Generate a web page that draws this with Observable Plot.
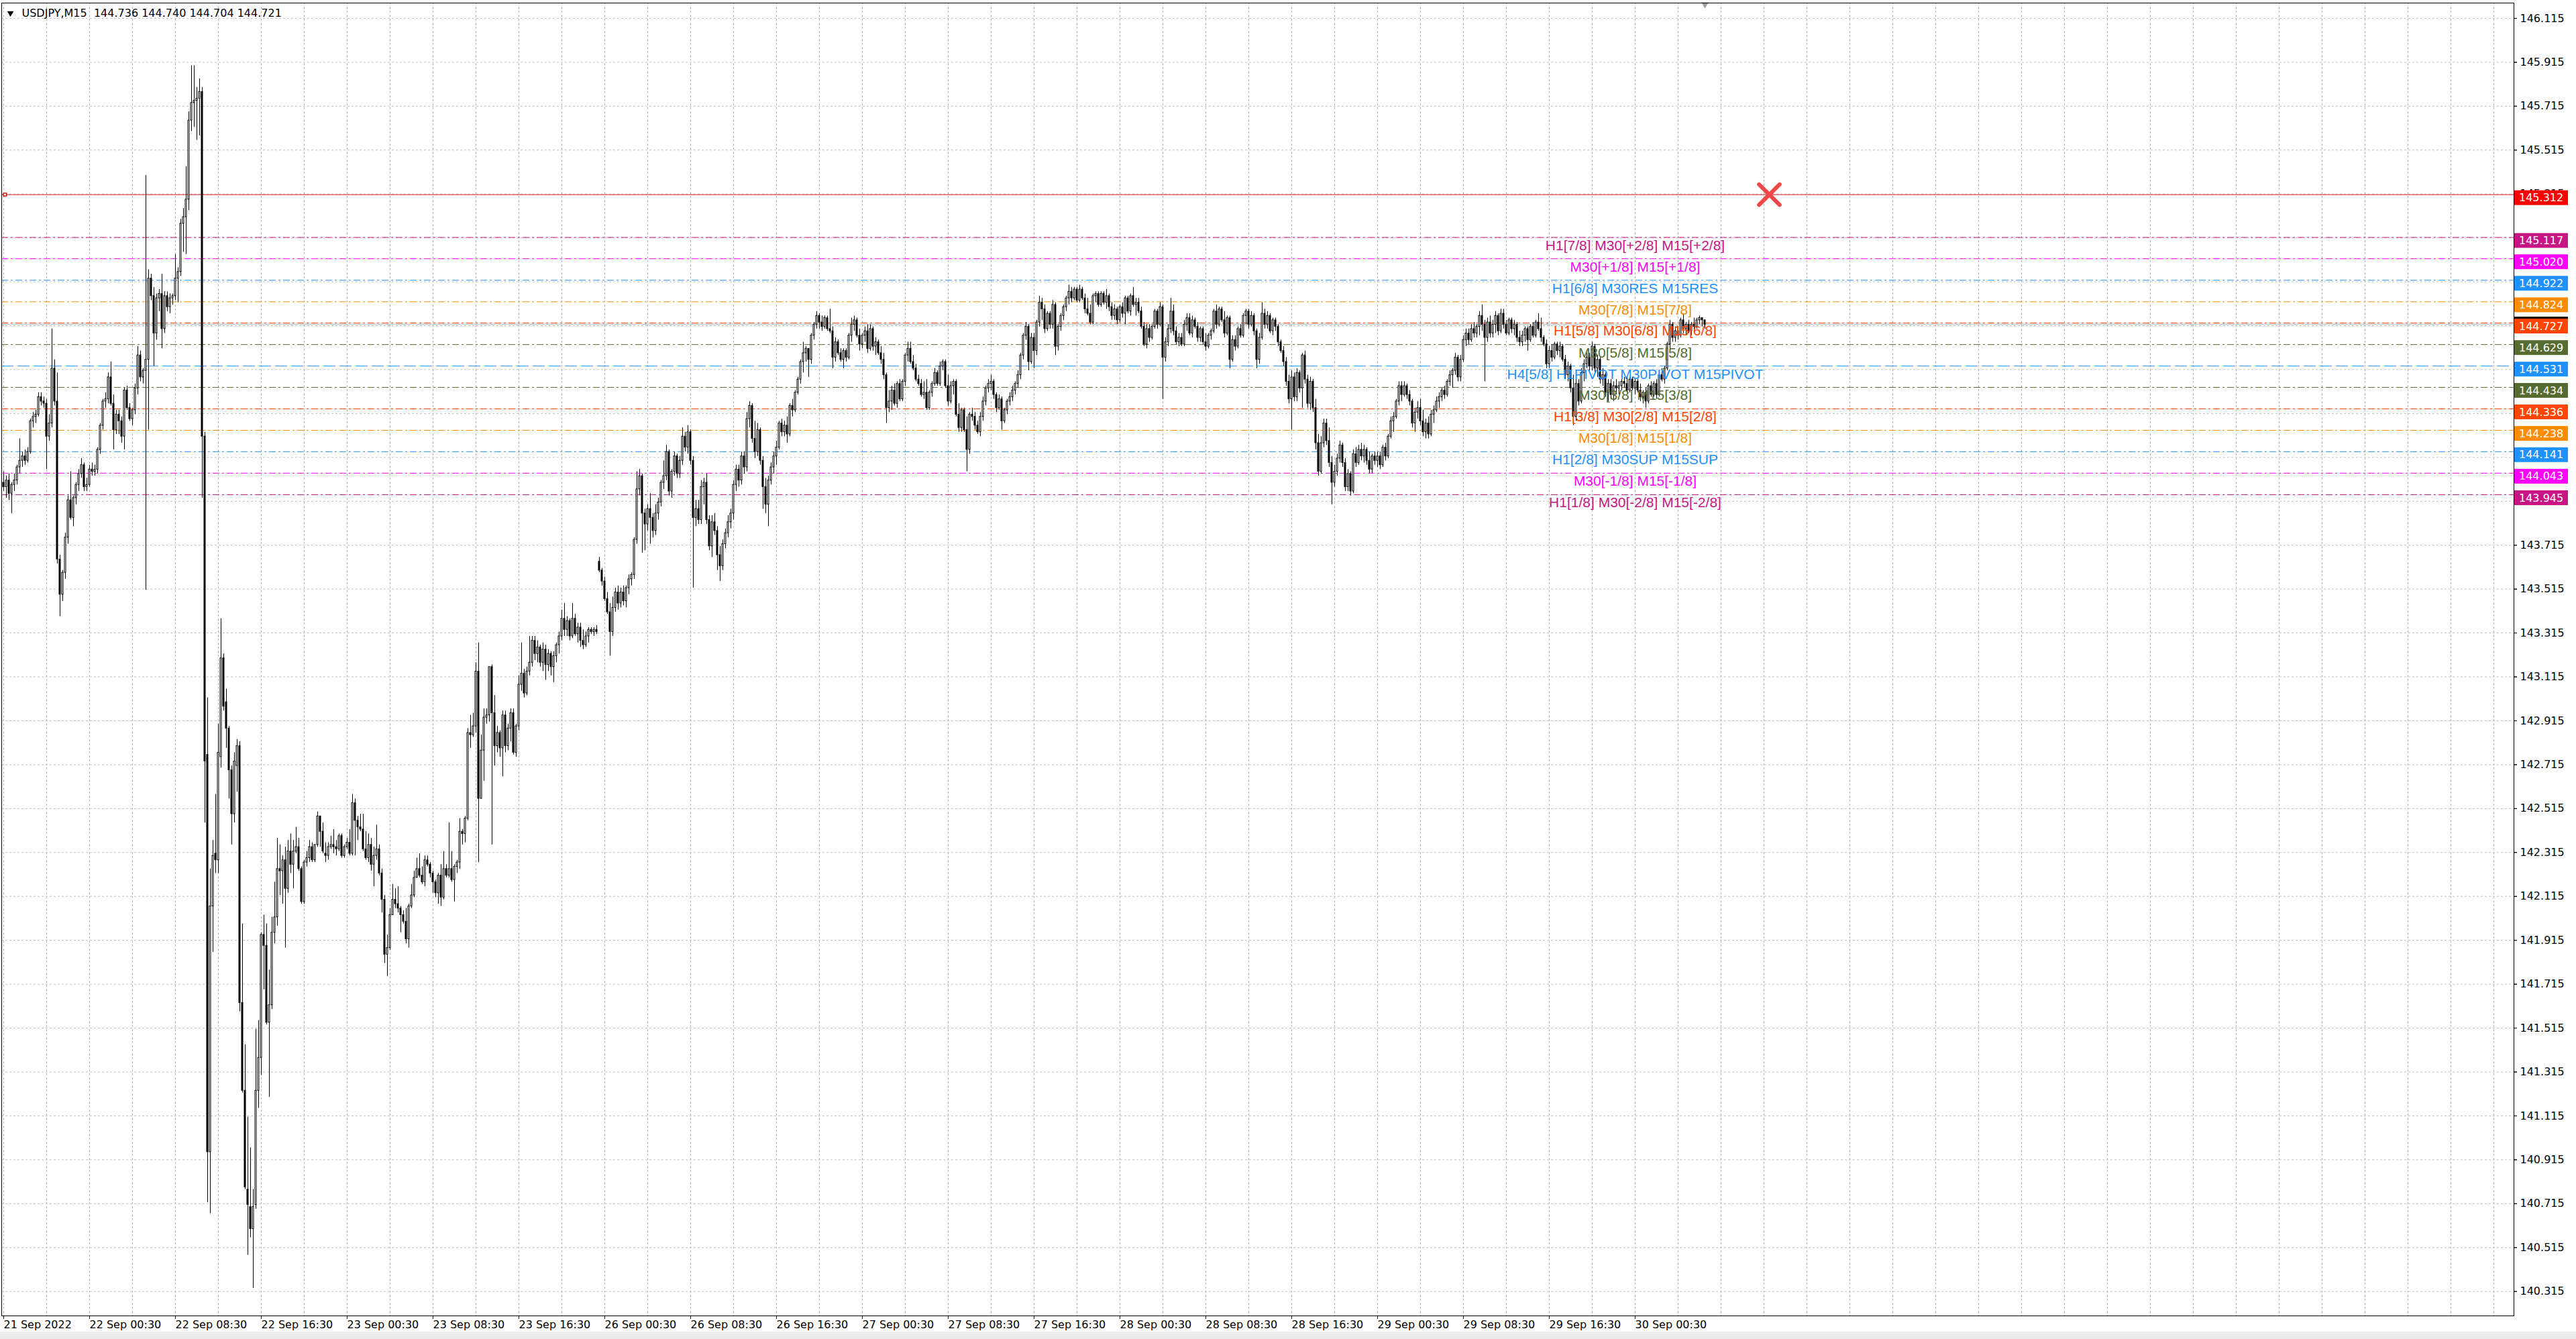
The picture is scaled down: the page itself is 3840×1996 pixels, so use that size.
<!DOCTYPE html>
<html><head><meta charset="utf-8">
<script src="https://cdn.jsdelivr.net/npm/d3@7"></script>
<script src="https://cdn.jsdelivr.net/npm/@observablehq/plot@0.6"></script>
<style>
html,body{margin:0;padding:0;background:#ececec;}
#chart svg{display:block;background:#fff;}
</style></head><body><div id="chart"></div>
<script>
// Prices in pips above 140.00 (price = 140 + v/100), one entry per M15 bar (bar 0 = 21 Sep 16:30)
const open = [
400,398,401,395,399,401,407,410,412,410, 414,428,430,431,439,437,436,421,427,452,
437,365,349,359,375,392,384,393,399,404, 408,398,399,406,405,406,415,426,437,438,
448,436,424,431,428,421,442,434,429,433, 443,458,448,451,456,493,485,468,484,486,
470,485,480,484,485,493,496,518,521,529, 565,573,574,575,578,421,276,95,207,231,
228,275,320,300,288,269,249,271,280,163, 123,78,70,60,71,123,138,194,189,154,
162,195,202,224,223,228,215,232,226,232, 234,224,209,227,229,234,228,235,248,241,
231,230,234,235,234,233,239,230,234,236, 231,254,246,243,242,233,229,235,226,230,
233,222,210,185,188,203,210,208,206,203, 200,192,207,212,220,224,221,218,228,226,
222,218,213,221,211,224,221,224,219,225, 227,241,240,247,286,285,289,314,256,278,
293,294,316,295,280,286,279,294,280,288, 295,277,289,308,313,304,314,318,328,322,
325,318,324,317,322,316,321,326,330,338, 333,337,330,338,331,334,328,326,330,333,
332,333,364,360,355,347,341,332,343,350, 345,350,346,352,356,358,374,397,403,386,
381,388,384,378,386,391,400,403,414,396, 405,412,404,410,421,416,423,410,384,388,
383,398,400,383,371,382,378,367,362,372, 377,382,386,399,406,401,412,407,429,435,
420,414,424,410,398,390,401,407,412,416, 427,423,426,422,435,433,441,447,455,459,
461,456,467,472,476,473,471,475,470,469, 457,464,459,456,460,457,467,472,474,467,
463,467,469,461,470,462,464,459,456,449, 434,437,442,436,445,438,446,458,461,455,
452,447,445,440,441,434,441,445,450,445, 453,455,444,437,444,446,431,425,433,424,
415,431,430,426,423,430,437,443,445,446, 440,434,438,428,433,437,439,442,445,449,
458,467,471,455,466,460,473,482,479,470, 477,472,481,462,471,476,480,484,487,484,
488,483,488,484,479,477,473,485,486,481, 486,482,485,480,476,479,474,480,477,484,
478,485,481,482,478,471,463,470,466,471, 478,472,480,457,464,470,478,469,464,466,
463,472,475,468,474,471,466,470,464,462, 467,469,478,472,479,474,468,475,456,465,
462,470,467,476,478,472,476,469,456,466, 477,472,476,469,474,471,464,460,455,446,
438,448,439,450,443,458,447,436,446,434, 418,405,418,427,419,409,400,405,411,417,
409,398,404,396,413,409,415,412,415,410, 406,412,410,412,408,416,412,421,428,430,
437,444,440,444,440,437,427,432,434,428, 423,427,422,431,433,437,439,442,440,446,
449,451,457,448,456,465,468,465,470,468, 471,476,472,466,473,468,472,476,469,477,
472,468,474,470,472,466,464,467,470,465, 471,467,473,470,466,463,454,460,457,463,
460,462,456,449,453,443,430,445,437,450, 454,457,453,462,452,456,447,449,441,445,
440,444,443,444,446,445,442,447,443,446, 442,439,441,437,444,440,445,440,449,447,
452,463,472,466,469,467,474,470,472,469, 472,471,474,475,474];
const high = [
405,403,404,400,404,408,420,414,415,416, 429,432,433,441,441,439,438,431,470,456,
450,367,360,377,394,405,394,400,406,411, 409,402,408,409,408,416,427,438,441,450,
455,440,433,433,430,443,444,436,434,445, 462,460,452,540,497,495,489,486,488,495,
487,487,486,486,504,498,520,525,544,569, 590,590,580,584,580,423,302,224,237,258,
290,338,322,306,289,271,277,283,282,199, 144,111,97,78,151,155,195,203,199,178,
202,218,238,235,230,234,237,240,237,243, 238,225,228,232,237,236,235,250,248,245,
236,236,239,242,237,240,240,235,238,242, 258,256,248,249,249,241,240,238,234,244,
235,224,212,194,206,217,215,216,207,205, 206,208,217,223,229,231,225,230,230,227,
223,219,222,226,232,226,245,232,226,228, 247,242,248,288,294,295,318,327,285,297,
297,316,317,303,289,287,296,296,290,297, 297,290,312,327,315,316,330,330,330,328,
326,327,326,324,323,323,327,332,342,345, 339,338,345,340,336,336,333,332,334,334,
334,335,366,361,357,350,345,348,352,353, 352,353,353,358,359,375,405,406,404,388,
390,395,386,390,393,401,410,417,415,406, 414,413,412,425,423,426,424,412,392,392,
401,402,404,385,385,386,380,371,374,379, 385,388,401,408,408,414,414,432,437,436,
428,427,425,412,402,403,409,414,419,428, 429,428,430,436,438,442,448,456,464,462,
461,468,473,478,477,476,476,476,479,471, 466,465,461,461,461,468,475,476,475,470,
468,471,472,472,471,466,465,462,459,450, 442,444,445,446,447,447,459,464,464,458,
454,449,447,446,447,442,446,452,451,455, 456,456,449,446,447,447,436,434,434,430,
432,434,432,428,432,439,444,447,449,447, 441,440,439,434,438,441,444,446,451,459,
468,473,472,468,468,474,485,484,481,478, 478,483,482,472,477,481,485,490,489,489,
489,490,489,486,484,481,486,487,487,487, 487,488,486,482,481,480,481,482,485,485,
486,489,484,484,480,473,472,472,472,479, 479,482,481,466,472,484,481,471,468,468,
474,477,477,476,475,473,471,471,468,468, 470,479,481,480,480,478,476,476,467,467,
471,472,477,479,479,478,477,470,468,482, 479,478,477,475,475,472,465,462,457,449,
451,450,452,451,459,460,449,448,447,438, 422,421,429,429,425,412,408,413,419,418,
411,406,405,415,416,417,418,417,416,414, 413,414,414,414,417,418,422,430,432,438,
446,446,446,445,442,438,434,437,438,433, 429,430,433,435,439,441,443,444,447,451,
452,459,458,458,467,470,470,472,473,472, 478,481,474,475,476,474,478,477,479,479,
474,475,475,474,473,469,469,471,471,472, 473,474,477,475,467,465,462,463,464,464,
464,463,458,455,454,449,447,447,452,456, 459,459,464,463,458,457,452,450,447,447,
446,447,446,447,448,448,448,448,447,447, 445,442,443,445,446,446,447,450,452,453,
464,474,473,471,471,475,477,473,474,473, 475,475,476,475,474];
const low = [
396,393,392,386,396,399,404,407,408,409, 413,425,427,430,435,434,406,419,425,435,
363,339,346,356,372,383,380,390,396,402, 396,396,398,403,403,404,413,424,434,436,
435,415,422,422,418,415,433,428,426,431, 440,446,445,351,424,483,453,465,478,461,
468,478,477,481,483,482,494,505,504,524, 560,562,556,558,393,245,72,67,186,222,
222,270,296,279,256,235,245,259,159,122, 78,48,56,33,69,115,130,169,153,120,
160,190,198,212,208,188,213,222,215,231, 223,208,208,225,227,227,227,234,234,231,
227,228,233,231,230,232,229,229,233,230, 230,230,237,241,232,228,227,223,216,228,
221,204,181,175,187,203,206,204,195,199, 190,188,206,211,220,220,217,216,225,220,
213,211,208,207,210,220,220,218,209,222, 224,235,236,246,279,284,286,227,256,264,
290,291,235,271,277,275,266,277,278,282, 276,275,287,305,302,303,312,316,319,318,
316,314,310,314,312,309,318,322,328,330, 330,328,329,330,327,325,324,325,327,331,
330,331,359,353,346,340,321,330,341,342, 343,344,343,349,353,356,372,394,368,369,
378,372,375,376,383,389,397,401,394,393, 403,402,402,408,414,413,408,352,380,381,
381,390,381,369,366,376,360,355,360,370, 375,379,383,396,398,399,404,405,425,418,
411,412,408,388,386,380,399,404,408,415, 421,421,418,421,430,432,440,445,450,455,
448,454,465,470,470,469,470,469,468,452, 455,458,455,452,455,456,464,469,466,460,
461,464,459,460,460,458,458,454,447,427, 432,433,435,434,437,437,444,455,454,451,
446,444,439,438,433,433,439,444,444,444, 451,443,435,436,440,430,423,423,423,405,
413,428,424,422,421,428,435,441,442,438, 432,433,424,427,431,435,437,440,443,447,
456,465,451,454,452,458,471,474,468,469, 470,470,458,460,469,474,478,481,482,483,
482,482,483,477,476,472,472,482,480,480, 481,479,478,474,474,472,473,475,472,477,
476,480,476,477,470,462,461,464,465,470, 470,471,438,455,462,468,467,463,462,462,
462,469,467,466,470,464,464,463,460,461, 465,468,470,471,473,466,467,452,455,460,
461,466,466,472,470,471,467,452,454,465, 470,470,468,467,469,462,459,453,444,436,
424,437,437,441,434,445,434,433,432,415, 403,404,416,417,407,390,398,403,409,407,
396,396,394,395,407,408,410,409,408,404, 404,408,407,406,407,410,411,420,423,429,
435,437,439,438,435,425,423,429,426,421, 420,420,421,427,432,434,437,438,439,444,
443,449,446,446,455,462,463,464,466,466, 467,469,446,464,466,466,468,467,468,470,
467,467,468,467,464,462,462,464,460,464, 466,466,469,464,462,452,452,455,456,458,
457,455,447,446,441,426,428,435,436,446, 452,451,451,450,448,445,444,439,437,438,
437,440,440,442,443,441,441,442,440,441, 437,436,434,436,439,439,438,439,446,445,
451,461,464,464,465,466,468,467,468,467, 469,470,472,471,470];
const close = [
398,401,395,399,401,407,410,412,410,414, 428,430,431,439,437,436,421,427,452,437,
365,349,359,375,392,384,393,399,404,408, 398,399,406,405,406,415,426,437,438,448,
436,424,431,428,421,442,434,429,433,443, 458,448,451,456,493,485,468,484,486,470,
485,480,484,485,493,496,518,521,529,565, 573,574,575,578,421,273,95,207,230,228,
277,320,298,288,269,249,273,280,163,123, 79,71,60,70,123,138,194,189,154,162,
195,202,224,223,228,215,232,226,232,234, 224,209,227,229,234,228,235,248,241,232,
230,234,235,234,233,239,230,234,236,231, 254,246,243,242,233,229,235,226,230,233,
222,210,185,188,203,210,208,206,203,200, 192,207,212,220,224,221,218,228,226,222,
218,213,221,211,224,221,224,219,225,227, 241,240,247,286,285,289,314,256,278,293,
294,316,295,280,286,279,294,280,288,295, 277,289,308,313,304,314,318,328,322,325,
318,324,317,322,316,321,326,330,338,333, 337,330,338,331,334,328,326,330,333,332,
333,332,360,355,347,341,332,343,350,345, 350,346,352,356,358,374,397,403,386,381,
388,384,378,386,391,400,403,414,396,405, 412,404,410,421,416,423,410,384,388,383,
398,400,383,371,382,378,367,362,372,377, 382,386,399,406,401,412,407,429,435,420,
414,424,410,398,390,401,407,412,416,427, 423,426,422,435,433,441,447,455,459,461,
456,467,472,476,473,471,475,470,469,457, 464,459,456,460,457,467,472,474,467,463,
467,469,461,470,462,464,459,456,449,434, 437,442,436,445,438,446,458,461,455,452,
447,445,440,441,434,441,445,450,445,453, 455,444,437,444,446,431,425,433,424,415,
431,430,426,423,430,437,443,445,446,440, 434,438,428,433,437,439,442,445,449,458,
467,471,455,466,460,473,482,479,470,477, 472,481,462,471,476,480,484,487,484,488,
483,488,484,479,477,473,485,486,481,486, 482,485,480,476,479,474,480,477,484,478,
485,481,482,478,471,463,470,466,471,478, 472,480,457,464,470,478,469,464,466,463,
472,475,468,474,471,466,470,464,462,467, 469,478,472,479,474,468,475,456,465,462,
470,467,476,478,472,476,469,456,466,477, 472,476,469,474,471,464,460,455,446,438,
448,439,450,443,458,447,436,446,434,418, 405,418,427,419,409,400,405,411,417,409,
398,404,396,413,409,415,412,415,410,406, 412,410,412,408,416,412,421,428,430,437,
444,440,444,440,437,427,432,434,428,423, 427,422,431,433,437,439,442,440,446,449,
451,457,448,456,465,468,465,470,468,471, 476,472,466,473,468,472,476,469,477,472,
468,474,470,472,466,464,467,470,465,471, 467,473,470,466,463,454,460,457,463,460,
462,456,449,453,443,430,445,437,450,454, 457,453,462,452,456,447,449,441,445,440,
444,443,444,446,445,442,447,443,446,442, 439,441,437,444,440,445,440,449,447,452,
463,472,466,469,467,474,470,472,469,472, 471,474,475,474,472];

const yTicks = [146.115,145.915,145.715,145.515,145.315,145.115,144.915,144.715,144.515,144.315,
  144.115,143.915,143.715,143.515,143.315,143.115,142.915,142.715,142.515,142.315,
  142.115,141.915,141.715,141.515,141.315,141.115,140.915,140.715,140.515,140.315];
// tick labels that lie fully under the coloured price boxes on the scale
const hiddenTickLabels = [145.115,144.915,144.715,144.515,144.315,144.115];
const xTickBars = [0,32,64,96,128,160,192,224,256,288,320,352,384,416,448,480,512,544,576,608];
const xTickLabels = ["21 Sep 2022","22 Sep 00:30","22 Sep 08:30","22 Sep 16:30","23 Sep 00:30",
  "23 Sep 08:30","23 Sep 16:30","26 Sep 00:30","26 Sep 08:30","26 Sep 16:30","27 Sep 00:30",
  "27 Sep 08:30","27 Sep 16:30","28 Sep 00:30","28 Sep 08:30","28 Sep 16:30","29 Sep 00:30",
  "29 Sep 08:30","29 Sep 16:30","30 Sep 00:30"];

const levels = [145.117,145.020,144.922,144.824,144.727,144.629,144.531,144.434,144.336,144.238,144.141,144.043,143.945];
const levelLabels = ["H1[7/8] M30[+2/8] M15[+2/8]","M30[+1/8] M15[+1/8]","H1[6/8] M30RES M15RES",
  "M30[7/8] M15[7/8]","H1[5/8] M30[6/8] M15[6/8]","M30[5/8] M15[5/8]","H4[5/8] H1PIVOT M30PIVOT M15PIVOT",
  "M30[3/8] M15[3/8]","H1[3/8] M30[2/8] M15[2/8]","M30[1/8] M15[1/8]","H1[2/8] M30SUP M15SUP",
  "M30[-1/8] M15[-1/8]","H1[1/8] M30[-2/8] M15[-2/8]"];
const levelColors = ["#C71585","#FF00FF","#1E90FF","#FF8C00","#FF4500","#556B2F","#1E90FF",
  "#556B2F","#FF4500","#FF8C00","#1E90FF","#FF00FF","#C71585"];
const pivotLevel = 144.531;
const redLevel = 145.312;
const bidPrice = 144.721;
const labelBar = 608;     // text objects anchored at 30 Sep 00:30
const stopBar = 658;      // red cross object
const titleText = "USDJPY,M15  144.736 144.740 144.704 144.721";

const bars = close.map((c, i) => ({i, o: 140 + open[i]/100, h: 140 + high[i]/100, l: 140 + low[i]/100, c: 140 + c/100}));
const levelData = levels.map((v, k) => ({value: v, label: levelLabels[k], color: levelColors[k]}));
const gridBars = d3.range(0, 936, 16);
const xLabelMap = new Map(xTickBars.map((b, k) => [b, xTickLabels[k]]));
const shownTicks = yTicks.filter(t => !hiddenTickLabels.includes(t));

const W = 3840, H = 1985, MR = 93;
const chart = Plot.plot({
  width: W, height: H,
  marginLeft: 2, marginRight: MR, marginTop: 4, marginBottom: 24,
  x: {type: "linear", domain: [-0.75, 935.5], axis: null},
  y: {domain: [140.204, 146.185], axis: null},
  style: {fontFamily: "DejaVu Sans", background: "#fff", color: "#000"},
  marks: [
    Plot.ruleY(yTicks, {stroke: "#c0c0c0", strokeDasharray: "3,3"}),
    Plot.ruleX(gridBars, {stroke: "#c0c0c0", strokeDasharray: "3,3"}),
    Plot.ruleY(levelData.filter(d => d.value !== pivotLevel), {y: "value", stroke: "color", strokeDasharray: "10,4,3,4"}),
    Plot.ruleY(levelData.filter(d => d.value === pivotLevel), {y: "value", stroke: "color", strokeDasharray: "18,6"}),
    Plot.ruleY([bidPrice], {stroke: "#c0c0c0"}),
    Plot.ruleY([redLevel], {stroke: "#d01818"}),
    Plot.ruleX(bars, {x: "i", y1: "l", y2: "h", stroke: "#000"}),
    Plot.rect(bars, {x1: d => d.i - 0.25, x2: d => d.i + 0.25, y1: "o", y2: "c",
      fill: d => d.c >= d.o ? "#fff" : "#000", stroke: "#000"}),
    Plot.text(levelData, {x: () => labelBar, y: "value", text: "label", fill: "color",
      fontFamily: "Liberation Sans, Arial, sans-serif", fontSize: 21, lineAnchor: "top", dy: 4, textAnchor: "middle"}),
    Plot.dot([{b: stopBar, p: redLevel}], {x: "b", y: "p", symbol: "times", r: 14, stroke: "#f04848", strokeWidth: 6, strokeLinecap: "round"}),
    Plot.dot([{b: 634}], {x: "b", frameAnchor: "top", symbol: "triangle", rotate: 180, r: 4, fill: "#a0a0a0", dy: 2}),
    Plot.dot([{b: 0.5, p: redLevel}], {x: "b", y: "p", symbol: "square", r: 2.5, stroke: "#d01818", fill: "#fff"}),
    Plot.frame({stroke: "#000"}),
    Plot.axisY({anchor: "right", ticks: yTicks, tickSize: 4, text: null}),
    Plot.axisY({anchor: "right", ticks: shownTicks, tickSize: 4, tickPadding: 5, tickFormat: d3.format(".3f"), fontSize: 16}),
    Plot.axisX({anchor: "bottom", ticks: xTickBars, tickSize: 5, tickPadding: 2, tickFormat: d => xLabelMap.get(d),
      textAnchor: "start", fontSize: 16}),
    Plot.text([titleText], {frameAnchor: "top-left", dx: 30, dy: 9, fontSize: 16, fill: "#000"}),
    Plot.dot([0], {frameAnchor: "top-left", dx: 13, dy: 15, symbol: "triangle", rotate: 180, r: 3.6, fill: "#000"})
  ]
});

// price labels on the right scale, placed with the plot's own y scale
const ys = chart.scale("y");
const g = d3.select(chart).append("g")
  .attr("font-family", "DejaVu Sans").attr("font-size", 16).attr("text-anchor", "start");
const x0 = W - MR + 1;
const boxes = levelData.map(d => ({value: d.value, color: d.color})).concat([{value: redLevel, color: "#ff0000"}]);
// bid marker peeking above the 144.727 box
g.append("rect").attr("x", x0).attr("y", ys.apply(144.727) + 5 - 11 - 3).attr("width", 80).attr("height", 6).attr("fill", "#000");
g.selectAll("rect.box").data(boxes).join("rect").attr("class", "box")
  .attr("x", x0).attr("y", d => ys.apply(d.value) + 5 - 11).attr("width", 80).attr("height", 22).attr("fill", d => d.color);
g.selectAll("text").data(boxes).join("text")
  .attr("x", x0 + 7).attr("y", d => ys.apply(d.value) + 5).attr("dy", "0.35em").attr("fill", "#fff")
  .attr("text-anchor", "start")
  .text(d => d.value.toFixed(3));

document.getElementById("chart").appendChild(chart);
</script>
</body></html>
